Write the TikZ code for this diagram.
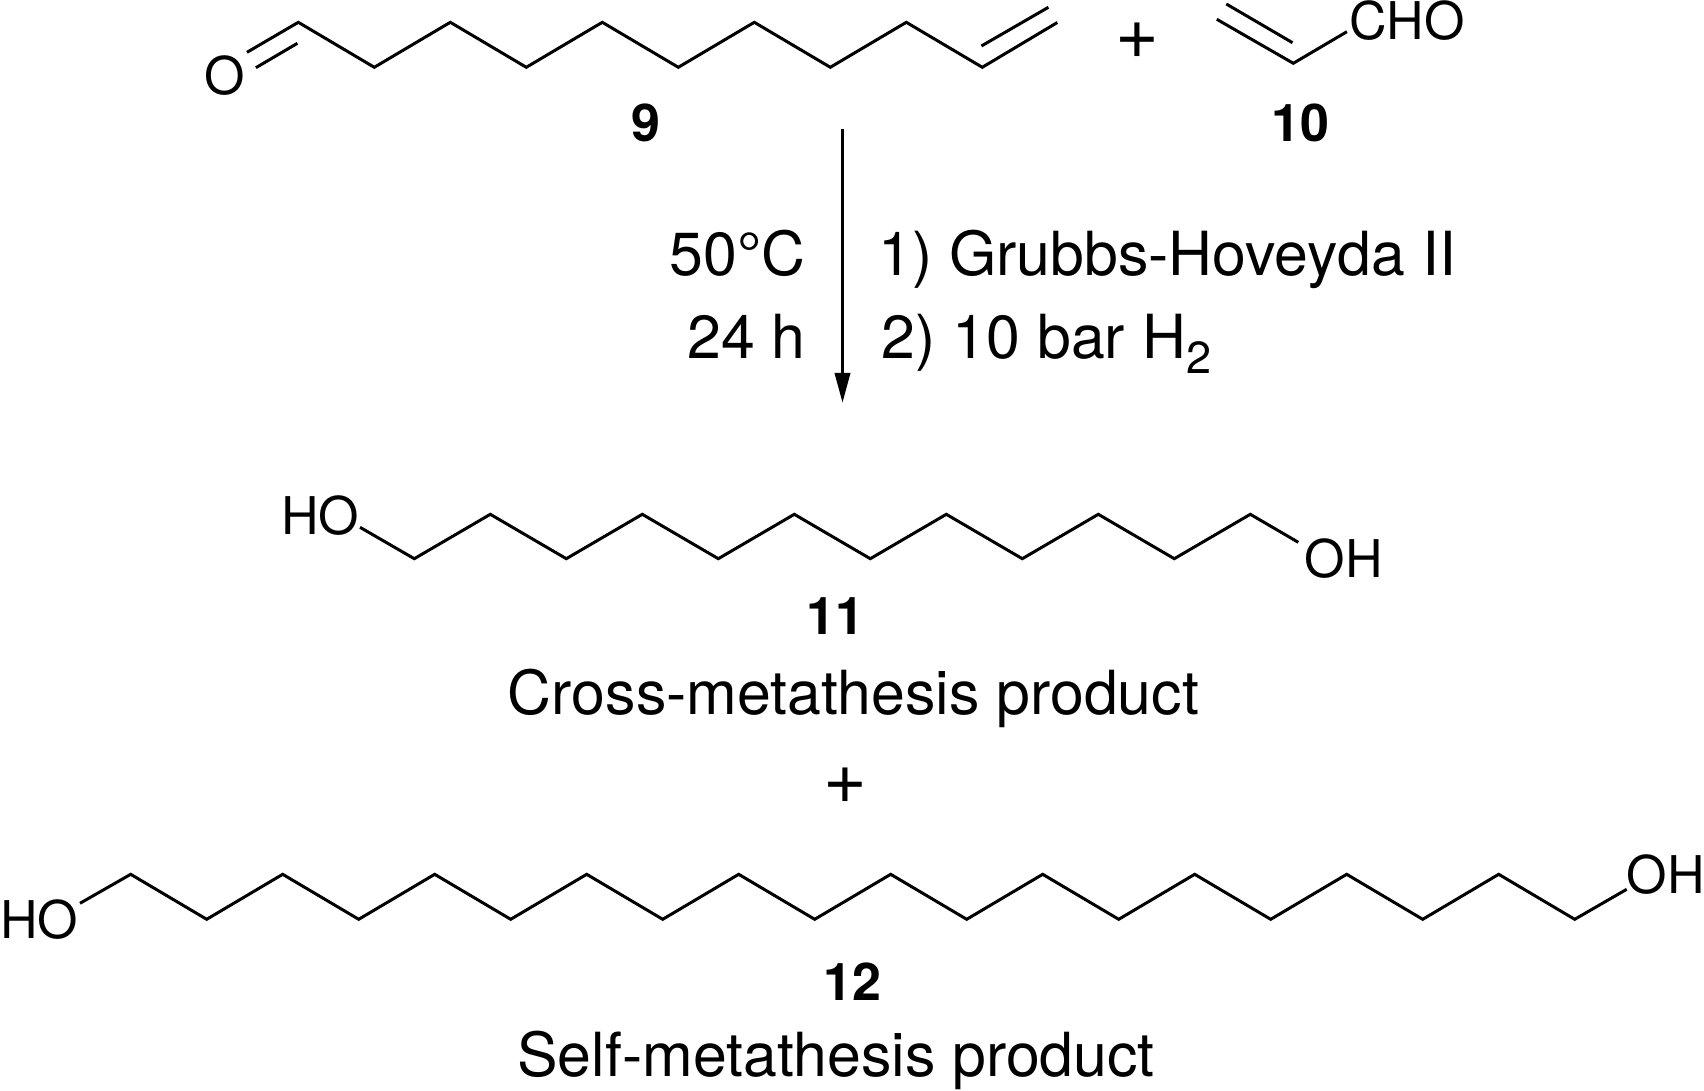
\documentclass[tikz,border=0pt]{standalone}
\usepackage{fontspec}
\setmainfont{TeX Gyre Heros}
\usetikzlibrary{arrows.meta}
\newcommand\atomsize{\fontsize{26}{26}\selectfont}
\newcommand\textsizeb{\fontsize{30.4}{30.4}\selectfont}
\newcommand\labelsize{\fontsize{26}{26}\bfseries\selectfont}
\newcommand\plussize{\fontsize{37.5}{37.5}\selectfont}
\tikzset{
  bond/.style={draw=black,line width=1.5pt,line join=miter},
  atomw/.style={inner sep=0pt,anchor=base west,font=\atomsize},
  cmpd/.style={inner sep=0pt,anchor=base,font=\labelsize},
  capw/.style={inner sep=0pt,anchor=base west,font=\textsizeb},
  cape/.style={inner sep=0pt,anchor=base east,font=\textsizeb},
  plusnode/.style={inner sep=0pt,anchor=center,font=\plussize},
  rxn/.style={draw=black,line width=1.8pt,-{Triangle[length=15pt,width=7.5pt]}}
}
\begin{document}
\begin{tikzpicture}[x=0.5pt,y=-0.5pt]
\useasboundingbox (0,0) rectangle (1704,1091);
% compound 9
\foreach \i in {0,...,9}{
  \pgfmathsetmacro\xx{298.3+76*\i}
  \pgfmathsetmacro\yy{isodd(\i)?67.3:22.3}
  \coordinate (n\i) at (\xx,\yy);
}
\coordinate (n10) at (1057.3,22.5);
\coordinate (n9a) at (981.4,46);
\coordinate (n10a) at (1048.4,7.3);
\coordinate (oa) at (247,52.3);
\coordinate (ob) at (297.4,43.3);
\coordinate (oc) at (255.9,67.7);
\draw[bond] (oa) -- (n0) \foreach \i in {1,...,10}{ -- (n\i)};
\draw[bond] (n9a) -- (n10a);
\draw[bond] (ob) -- (oc);
\node[atomw] (oxy) at (204.5,95) {O};
\node[cmpd] (l9) at (645.6,141.7) {9};
% plus
\node[plusnode] (plus1) at (1137,40.7) {+};
% compound 10
\coordinate (a0) at (1216.8,19.3);
\coordinate (a1) at (1293.3,63.3);
\coordinate (a2) at (1346.9,31.7);
\coordinate (a3) at (1292.5,42.7);
\coordinate (a4) at (1226.3,4);
\draw[bond] (a0) -- (a1) -- (a2);
\draw[bond] (a3) -- (a4);
\node[atomw] (cho) at (1349,39.5) {CHO};
\node[cmpd] (l10) at (1300,141.7) {10};
% arrow
\coordinate (ar0) at (842.5,129);
\coordinate (ar1) at (842.5,403);
\draw[rxn] (ar0) -- (ar1);
\node[cape] (c1) at (806,276) {50°C};
\node[cape] (c2) at (806,358) {24 h};
\node[capw] (c3) at (878,276) {1) Grubbs-Hoveyda II};
\node[capw] (c4) at (881.5,358) {2) 10 bar H\raisebox{-7.5pt}{\fontsize{22.5}{22.5}\selectfont 2}};
% compound 11
\foreach \i in {0,...,11}{
  \pgfmathsetmacro\xx{414.3+76*\i}
  \pgfmathsetmacro\yy{isodd(\i)?514.3:558.7}
  \coordinate (m\i) at (\xx,\yy);
}
\coordinate (mh) at (360,527.3);
\coordinate (mo) at (1298.3,542.3);
\draw[bond] (mh) \foreach \i in {0,...,11}{ -- (m\i)} -- (mo);
\node[atomw] (ho11) at (281,534.3) {HO};
\node[atomw] (oh11) at (1304.5,577.7) {OH};
\node[cmpd] (l11) at (835.8,634) {11};
\node[capw] (t11) at (507.5,714) {Cross-metathesis product};
\node[plusnode] (plus2) at (845,785.7) {+};
% compound 12
\foreach \i in {0,...,19}{
  \pgfmathsetmacro\xx{130.7+76*\i}
  \pgfmathsetmacro\yy{isodd(\i)?919.3:874.3}
  \coordinate (k\i) at (\xx,\yy);
}
\coordinate (kh) at (80,903.3);
\coordinate (ko) at (1626.7,889.3);
\draw[bond] (kh) \foreach \i in {0,...,19}{ -- (k\i)} -- (ko);
\node[atomw] (ho12) at (0,938.3) {HO};
\node[atomw] (oh12) at (1626.5,893.3) {OH};
\node[cmpd] (l12) at (852.5,1000) {12};
\node[capw] (t12) at (517,1076.7) {Self-metathesis product};
\end{tikzpicture}
\end{document}
